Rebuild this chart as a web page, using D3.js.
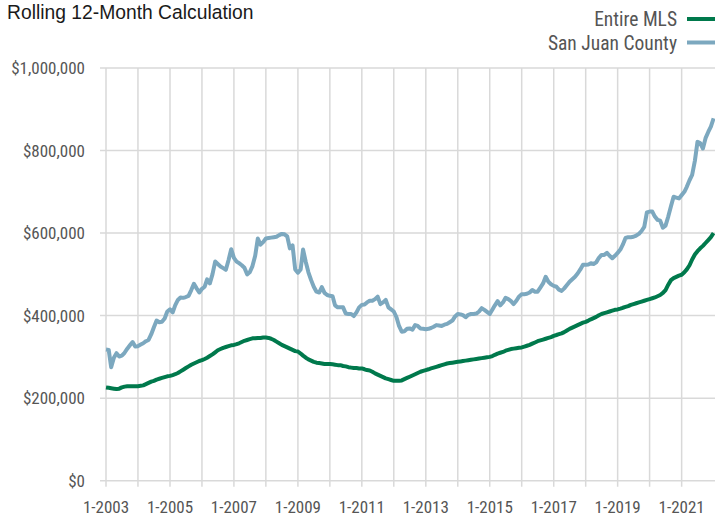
<!DOCTYPE html>
<html>
<head>
<meta charset="utf-8">
<script src="https://cdn.jsdelivr.net/npm/d3@7/dist/d3.min.js"></script>
<style>
  body { margin: 0; background: #fff; }
  text { font-family: "Liberation Sans Narrow", "Arial Narrow", "Roboto Condensed", "Liberation Sans", sans-serif; }
</style>
</head>
<body>
<div id="chart"></div>
<script>
// monthly rolling 12-month values, thousands of dollars, from 1-2003 to 1-2022
const startMonth = new Date(2003, 0, 1);

const mlsValues = [
  226, 225, 224, 223, 222, 223, 226, 228, 229, 229, 229, 229, // 2003
  229, 230, 231, 234, 237, 240, 242, 245, 247, 249, 251, 253, // 2004
  254, 256, 258, 261, 265, 269, 273, 277, 281, 284, 287, 290, // 2005
  292, 295, 298, 302, 306, 311, 316, 319, 322, 324, 326, 328, // 2006
  329, 331, 333, 336, 339, 341, 343, 345, 345, 346, 346, 347, // 2007
  347, 346, 344, 341, 337, 333, 329, 326, 323, 320, 317, 314, // 2008
  313, 308, 303, 298, 294, 291, 288, 286, 285, 284, 283, 283, // 2009
  283, 282, 281, 280, 280, 278, 277, 275, 274, 273, 273, 272, // 2010
  272, 270, 268, 267, 264, 260, 257, 254, 251, 248, 246, 244, // 2011
  242, 242, 242, 243, 246, 249, 252, 255, 258, 261, 264, 266, // 2012
  268, 270, 272, 274, 276, 278, 280, 282, 284, 285, 286, 287, // 2013
  288, 289, 290, 291, 292, 293, 294, 295, 296, 297, 298, 299, // 2014
  300, 302, 305, 308, 310, 312, 315, 317, 319, 320, 321, 322, // 2015
  323, 325, 327, 329, 332, 335, 338, 340, 342, 344, 346, 348, // 2016
  351, 353, 355, 357, 360, 364, 368, 371, 374, 377, 380, 383, // 2017
  385, 388, 391, 394, 397, 401, 404, 406, 408, 410, 412, 414, // 2018
  415, 417, 419, 421, 423, 426, 428, 430, 432, 434, 436, 438, // 2019
  440, 442, 444, 447, 450, 455, 462, 475, 486, 491, 494, 497, // 2020
  499, 505, 512, 522, 536, 548, 556, 563, 569, 576, 583, 590, // 2021
  600                                                          // 2022
];

const sanJuanValues = [
  318, 317, 275, 298, 309, 301, 303, 310, 320, 328, 336, 325, // 2003
  326, 330, 333, 338, 341, 355, 372, 388, 384, 385, 393, 410, // 2004
  415, 408, 425, 438, 444, 443, 445, 448, 462, 477, 466, 456, // 2005
  465, 470, 488, 478, 500, 531, 525, 519, 515, 511, 535, 561, // 2006
  540, 531, 527, 522, 516, 500, 505, 520, 545, 587, 572, 578, // 2007
  587, 588, 589, 590, 591, 595, 598, 597, 592, 563, 570, 512, // 2008
  504, 512, 560, 530, 505, 486, 470, 458, 456, 469, 455, 450, // 2009
  448, 447, 425, 420, 420, 420, 405, 404, 404, 399, 408, 420, // 2010
  426, 427, 432, 436, 436, 440, 446, 428, 432, 438, 420, 415, // 2011
  410, 396, 375, 361, 362, 368, 369, 366, 377, 375, 369, 368, // 2012
  367, 368, 370, 373, 377, 376, 375, 378, 380, 384, 388, 398, // 2013
  404, 403, 401, 396, 402, 404, 404, 405, 410, 418, 414, 409, // 2014
  404, 415, 425, 435, 425, 432, 443, 440, 435, 428, 436, 446, // 2015
  452, 452, 453, 456, 462, 458, 458, 468, 478, 494, 482, 476, // 2016
  472, 470, 463, 460, 466, 474, 482, 488, 494, 502, 512, 523, // 2017
  523, 524, 527, 525, 529, 540, 547, 547, 552, 545, 539, 545, // 2018
  552, 560, 572, 588, 590, 590, 591, 594, 598, 605, 615, 650, // 2019
  652, 652, 640, 632, 630, 613, 618, 640, 665, 688, 686, 684, // 2020
  692, 700, 712, 728, 741, 775, 821, 818, 805, 830, 845, 858, // 2021
  878                                                          // 2022
];

const seriesNames = ["Entire MLS", "San Juan County"];
const seriesColors = ["#00794c", "#7ca8bf"];
const yTicks = [0, 200000, 400000, 600000, 800000, 1000000];
const xLabelYears = [2003, 2005, 2007, 2009, 2011, 2013, 2015, 2017, 2019, 2021];
const titleText = "Rolling 12-Month Calculation";

const width = 715, height = 515;
const plotLeft = 106, plotRight = 713.6, plotTop = 68, plotBottom = 480.7;

const svg = d3.select("#chart").append("svg")
    .attr("width", width)
    .attr("height", height);

const x = d3.scaleTime()
    .domain([startMonth, new Date(2022, 0, 1)])
    .range([plotLeft, plotRight]);

const y = d3.scaleLinear()
    .domain([0, 1000000])
    .range([plotBottom, plotTop]);

const gridColor = "#d9d9d9";
const labelColor = "#555";

// vertical gridlines, one per year
const years = d3.timeYear.range(startMonth, new Date(2021, 6, 1));
svg.append("g")
    .selectAll("line")
    .data(years)
    .enter()
    .append("line")
    .attr("x1", d => x(d))
    .attr("x2", d => x(d))
    .attr("y1", plotTop)
    .attr("y2", plotBottom + 6)
    .attr("stroke", gridColor)
    .attr("stroke-width", 1.5);

// horizontal gridlines
svg.append("g")
    .selectAll("line")
    .data(yTicks)
    .enter()
    .append("line")
    .attr("x1", plotLeft - 6)
    .attr("x2", width)
    .attr("y1", d => y(d))
    .attr("y2", d => y(d))
    .attr("stroke", gridColor)
    .attr("stroke-width", 1.5);

// y labels
svg.append("g")
    .selectAll("text")
    .data(yTicks)
    .enter()
    .append("text")
    .attr("x", 85)
    .attr("y", d => y(d))
    .attr("dy", "0.36em")
    .attr("text-anchor", "end")
    .attr("fill", labelColor)
    .style("font-size", "17px")
    .text(d => d3.format("$,")(d));

// x labels
svg.append("g")
    .selectAll("text")
    .data(xLabelYears)
    .enter()
    .append("text")
    .attr("x", d => x(new Date(d, 0, 1)))
    .attr("y", 512.5)
    .attr("text-anchor", "middle")
    .attr("fill", labelColor)
    .style("font-size", "17px")
    .text(d => d3.timeFormat("%-m-%Y")(new Date(d, 0, 1)));

const line = d3.line()
    .x((d, i) => x(d3.timeMonth.offset(startMonth, i)))
    .y(d => y(d * 1000));

svg.append("path")
    .datum(sanJuanValues)
    .attr("d", line)
    .attr("fill", "none")
    .attr("stroke", seriesColors[1])
    .attr("stroke-width", 4)
    .attr("stroke-linejoin", "round");

svg.append("path")
    .datum(mlsValues)
    .attr("d", line)
    .attr("fill", "none")
    .attr("stroke", seriesColors[0])
    .attr("stroke-width", 4)
    .attr("stroke-linejoin", "round");

// title
svg.append("text")
    .attr("x", 7)
    .attr("y", 18.5)
    .attr("fill", "#1a1a1a")
    .style("font-size", "19.3px")
    .style("font-family", "'Liberation Sans', Arial, sans-serif")
    .text(titleText);

// legend, top right
const legend = svg.append("g")
    .selectAll("g")
    .data(seriesNames)
    .enter()
    .append("g")
    .attr("transform", (d, i) => "translate(0," + (19 + i * 23.5) + ")");

legend.append("text")
    .attr("x", 677)
    .attr("dy", "0.36em")
    .attr("text-anchor", "end")
    .attr("fill", labelColor)
    .style("font-size", "19.5px")
    .text(d => d);

legend.append("line")
    .attr("x1", 687)
    .attr("x2", 715)
    .attr("stroke", (d, i) => seriesColors[i])
    .attr("stroke-width", 4);
</script>
</body>
</html>
